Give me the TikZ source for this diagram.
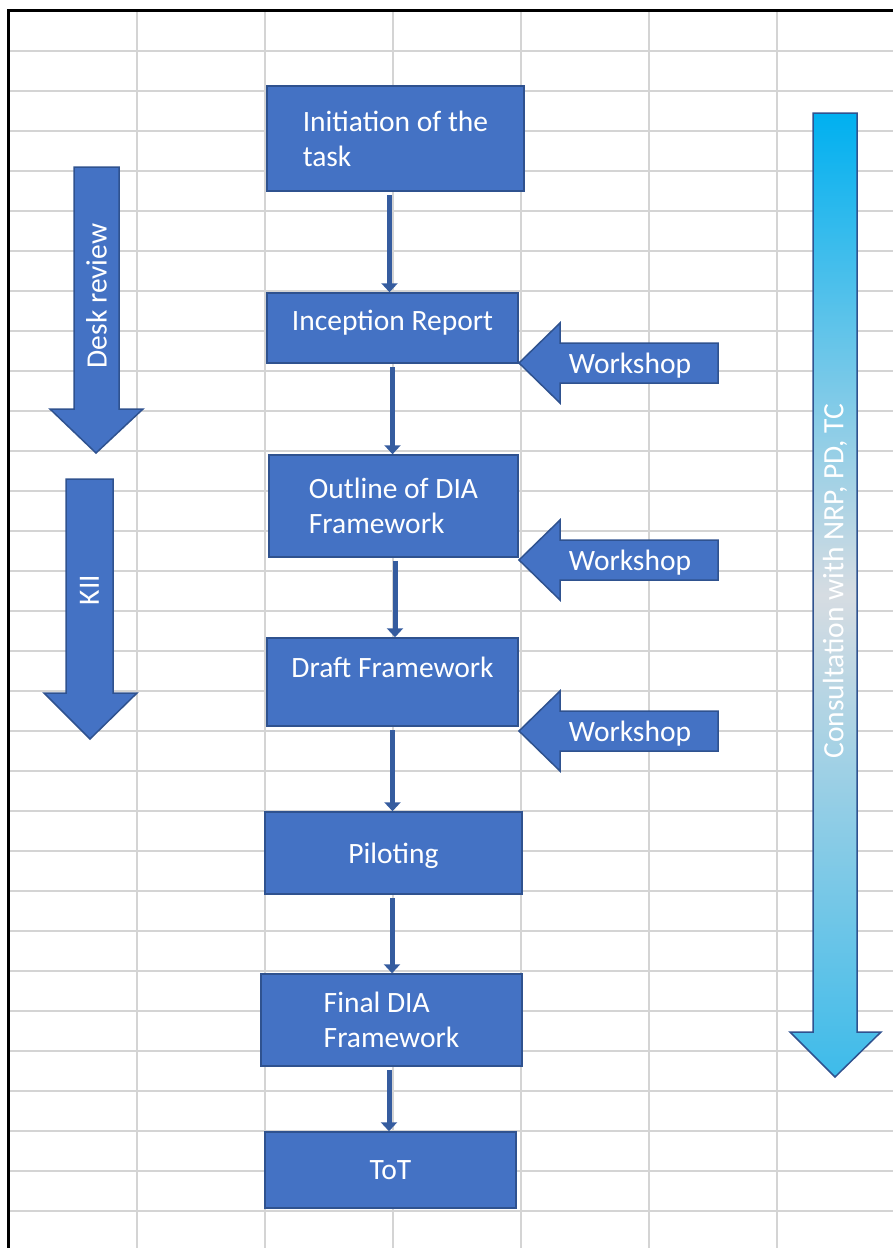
\documentclass[tikz,border=0pt]{standalone}
\usepackage{fontspec}
\setmainfont{Carlito}
\usetikzlibrary{arrows.meta, positioning, calc}
\definecolor{boxfill}{HTML}{4472C4}
\definecolor{boxline}{HTML}{2F528F}
\definecolor{gridgray}{HTML}{D4D4D4}
\definecolor{cyantop}{HTML}{00B0F0}
\definecolor{cyanlow}{HTML}{3DBBEA}
\definecolor{cyanmid}{HTML}{D6DCE2}

\begin{document}
\begin{tikzpicture}[x=1pt, y=-1pt,
    stage/.style={draw=boxline, fill=boxfill, line width=1.5pt, text=white,
      font=\fontsize{29.5}{35}\selectfont, align=left, inner sep=0pt},
    blockarr/.style={draw=boxline, fill=boxfill, line width=1.5pt, line join=miter},
    lbl/.style={text=white, font=\fontsize{29.5}{35}\selectfont, inner sep=0pt},
    arr/.style={draw=boxline!70!boxfill, line width=5pt,
      -{Triangle[length=9pt, width=16pt]}, shorten <=3pt},
  ]
  \useasboundingbox (0,0) rectangle (893,1248);

  % sheet grid
  \foreach \gx in {136.5, 264.5, 392.7, 520.8, 649, 777}
    \draw[gridgray, line width=2pt] (\gx,10) -- (\gx,1248);
  \foreach \k in {0,...,29}
    \draw[gridgray, line width=2pt] (8,50.5+40*\k) -- (893,50.5+40*\k);
  \draw[black, line width=3pt] (8,1248) -- (8,10) -- (893,10);

  % main steps
  \node[stage, minimum width=257pt, minimum height=105pt] (init) at (395.5,138.5)
    {Initiation of the\\task};
  \node[stage, minimum width=251pt, minimum height=70pt, text depth=16pt] (incep) at (392.5,328)
    {Inception Report};
  \node[stage, minimum width=249pt, minimum height=102pt] (outline) at (393.5,506)
    {Outline of DIA\\Framework};
  \node[stage, minimum width=251pt, minimum height=88pt, text depth=30pt] (draft) at (392.5,682)
    {Draft Framework};
  \node[stage, minimum width=257pt, minimum height=82pt, text depth=0pt] (pilot) at (393.5,853)
    {Piloting};
  \node[stage, minimum width=261pt, minimum height=92pt] (final) at (391.5,1020)
    {Final DIA\\Framework};
  \node[stage, minimum width=251pt, minimum height=76pt] (tot) at (390.5,1170)
    {ToT};

  \draw[arr] ([xshift=-6pt]init.south) -- ([xshift=-6pt]init.south |- incep.north);
  \draw[arr] (incep.south) -- (incep.south |- outline.north);
  \draw[arr] ([xshift=1.5pt]outline.south) -- ([xshift=1.5pt]outline.south |- draft.north);
  \draw[arr] (draft.south) -- (draft.south |- pilot.north);
  \draw[arr] ([xshift=-1.5pt]pilot.south) -- ([xshift=-1.5pt]pilot.south |- final.north);
  \draw[arr] ([xshift=-2.5pt]final.south) -- ([xshift=-2.5pt]final.south |- tot.north);

  % workshops
  \foreach \wy/\i in {363/1, 560/2, 731/3} {
    \draw[blockarr] (519,\wy) -- (560,\wy-40) -- (560,\wy-20) -- (718,\wy-20)
      -- (718,\wy+20) -- (560,\wy+20) -- (560,\wy+40) -- cycle;
    \node[lbl, text depth=0pt] (ws\i) at (630,\wy) {Workshop};
  }

  % side arrows
  \draw[blockarr] (74,167) -- (119,167) -- (119,409) -- (143,409) -- (96,453)
    -- (50,409) -- (74,409) -- cycle;
  \node[lbl, rotate=90] (desk) at (96.5,296) {Desk review};
  \draw[blockarr] (66,479) -- (113,479) -- (113,693) -- (137,693) -- (90,739)
    -- (44,693) -- (66,693) -- cycle;
  \node[lbl, rotate=90] (kii) at (89.5,590) {KII};

  \path[draw=boxline, line width=1.5pt, line join=miter,
    top color=cyantop, bottom color=cyanlow, middle color=cyanmid]
    (813,113) -- (857,113) -- (857,1032) -- (881,1032) -- (835,1077)
    -- (790,1032) -- (813,1032) -- cycle;
  \node[lbl, rotate=90] (consult) at (835,581) {Consultation with NRP, PD, TC};
\end{tikzpicture}
\end{document}
